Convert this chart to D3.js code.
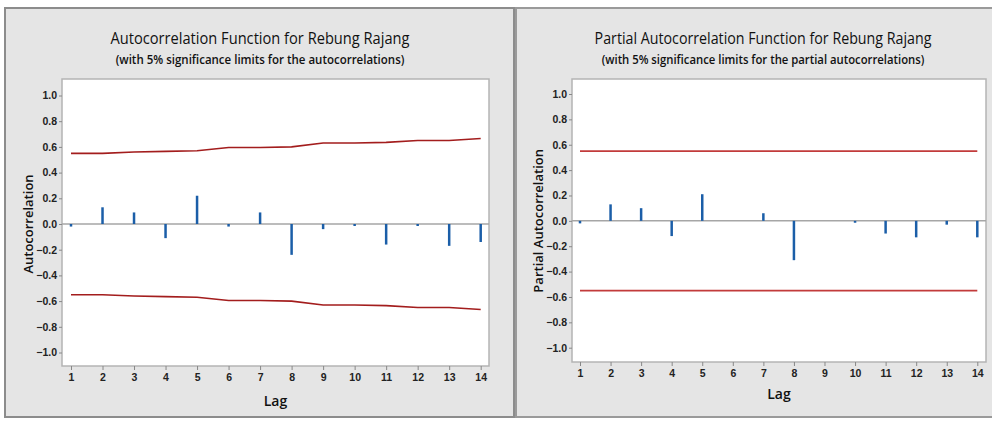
<!DOCTYPE html>
<html>
<head>
<meta charset="utf-8">
<script src="https://cdn.jsdelivr.net/npm/d3@7"></script>
<style>
  body { margin: 0; background: #fff; }
  svg { display: block; font-family: "Open Sans", "Noto Sans", sans-serif; }
  .tick text { font-size: 10.5px; font-weight: 600; fill: #222; }
  .tick line { stroke: #888; }
</style>
</head>
<body>
<svg id="chart" width="992" height="421"></svg>
<script>
// lags and values
const lags = [1, 2, 3, 4, 5, 6, 7, 8, 9, 10, 11, 12, 13, 14];
const acf = [-0.02, 0.13, 0.09, -0.11, 0.22, -0.02, 0.09, -0.24, -0.04, -0.01, -0.16, -0.01, -0.17, -0.14];
const acfLimit = [0.55, 0.55, 0.56, 0.565, 0.57, 0.595, 0.595, 0.60, 0.63, 0.63, 0.635, 0.65, 0.65, 0.665];
const pacf = [-0.02, 0.13, 0.10, -0.12, 0.21, 0, 0.06, -0.31, 0, -0.015, -0.10, -0.13, -0.03, -0.13];
const pacfLimit = [0.55, 0.55, 0.55, 0.55, 0.55, 0.55, 0.55, 0.55, 0.55, 0.55, 0.55, 0.55, 0.55, 0.55];
const yTicks = [1.0, 0.8, 0.6, 0.4, 0.2, 0.0, -0.2, -0.4, -0.6, -0.8, -1.0];

const svg = d3.select('#chart');

//panel backgrounds
svg.append('rect').attr('x', 5).attr('y', 8).attr('width', 509).attr('height', 409)
   .attr('fill', '#e5e5e5').attr('stroke', '#8c8c8c').attr('stroke-width', 2);
svg.append('rect').attr('x', 516).attr('y', 8).attr('width', 476).attr('height', 409)
   .attr('fill', '#e5e5e5');
svg.append('path').attr('d', 'M992,8H516V417H992')
   .attr('fill', 'none').attr('stroke', '#9a9a9a').attr('stroke-width', 2);

// squeeze a text horizontally (in its own frame) so it is w px long
function fitText(sel, cx, cy, w, rot) {
  const nat = sel.node().getComputedTextLength();
  const k = Math.min(1, w / nat);
  sel.attr('x', 0).attr('y', 0)
     .attr('transform', 'translate(' + cx + ',' + cy + ')' + (rot ? ' rotate(' + rot + ')' : '') + ' scale(' + k + ',1)');
}

function drawPanel(p) {
  const g = svg.append('g');
  const x = d3.scaleLinear().domain([1, 14]).range(p.xr);
  const y = d3.scaleLinear().domain([-1, 1]).range(p.yr);

  g.append('rect')
   .attr('x', p.box[0]).attr('y', p.box[1])
   .attr('width', p.box[2] - p.box[0]).attr('height', p.box[3] - p.box[1])
   .attr('fill', '#fff').attr('stroke', '#b4b4b4').attr('stroke-width', 1.5);

  // zero line
  g.append('line')
   .attr('x1', p.box[0]).attr('x2', p.box[2])
   .attr('y1', y(0)).attr('y2', y(0))
   .attr('stroke', '#a6a6a6').attr('stroke-width', 1.5);

  // limits
  const line = d3.line().x((d, i) => x(lags[i]));
  g.append('path').datum(p.limit)
   .attr('d', line.y(d => y(d)))
   .attr('fill', 'none').attr('stroke', p.limColor).attr('stroke-width', 1.6);
  g.append('path').datum(p.limit)
   .attr('d', line.y(d => y(-d)))
   .attr('fill', 'none').attr('stroke', p.limColor).attr('stroke-width', 1.6);

  // spikes
  g.selectAll('.bar')
   .data(p.values)
   .enter()
   .append('line')
   .attr('class', 'bar')
   .attr('x1', (d, i) => x(lags[i]))
   .attr('x2', (d, i) => x(lags[i]))
   .attr('y1', y(0))
   .attr('y2', d => (Math.abs(d) < 0.012 && d !== 0) ? y(0) + (d < 0 ? 2 : -2) : y(d))
   .attr('stroke', '#1b5ea8').attr('stroke-width', 2.5);

  //axes
  const yAxis = d3.axisLeft(y).tickValues(yTicks).tickSize(3).tickPadding(2).tickFormat(d3.format('.1f'));
  g.append('g').attr('transform', 'translate(' + p.box[0] + ',0)').call(yAxis)
   .call(a => a.select('.domain').remove());

  const xAxis = d3.axisBottom(x).tickValues(lags).tickSize(4).tickPadding(4).tickFormat(d3.format('d'));
  g.append('g').attr('transform', 'translate(0,' + p.box[3] + ')').call(xAxis)
   .call(a => a.select('.domain').remove());

  // texts
  const t = g.append('text').attr('text-anchor', 'middle')
   .attr('font-size', 17).attr('font-weight', 500).attr('fill', '#111')
   .text(p.title);
  fitText(t, p.cx, 44, p.titleW);
  const s = g.append('text').attr('text-anchor', 'middle')
   .attr('font-size', 12.5).attr('font-weight', 600).attr('fill', '#111')
   .text(p.sub);
  fitText(s, p.cx, 64, p.subW);
  g.append('text').attr('x', (p.box[0] + p.box[2]) / 2).attr('y', p.lagY)
   .attr('text-anchor', 'middle').attr('font-size', 14).attr('font-weight', 600).attr('fill', '#111')
   .text('Lag');
  const yl = g.append('text')
   .attr('text-anchor', 'middle').attr('dy', '0.35em')
   .attr('font-size', 13).attr('font-weight', 600).attr('fill', '#111')
   .text(p.ylabel);
  fitText(yl, p.ylx, y(0), p.ylW, -90);
}

drawPanel({
  box: [62, 79, 489, 366], xr: [71, 480.7], yr: [352.5, 95.5],
  values: acf, limit: acfLimit, limColor: '#a31d1d',
  cx: 260, title: 'Autocorrelation Function for Rebung Rajang', titleW: 299,
  sub: '(with 5% significance limits for the autocorrelations)', subW: 289,
  lagY: 406, ylx: 28, ylabel: 'Autocorrelation', ylW: 107
});

drawPanel({
  box: [572, 79, 986, 362], xr: [580, 977.3], yr: [347.7, 94],
  values: pacf, limit: pacfLimit, limColor: '#c23b3b',
  cx: 763, title: 'Partial Autocorrelation Function for Rebung Rajang', titleW: 337,
  sub: '(with 5% significance limits for the partial autocorrelations)', subW: 323,
  lagY: 399, ylx: 538, ylabel: 'Partial Autocorrelation', ylW: 152
});
</script>
</body>
</html>
